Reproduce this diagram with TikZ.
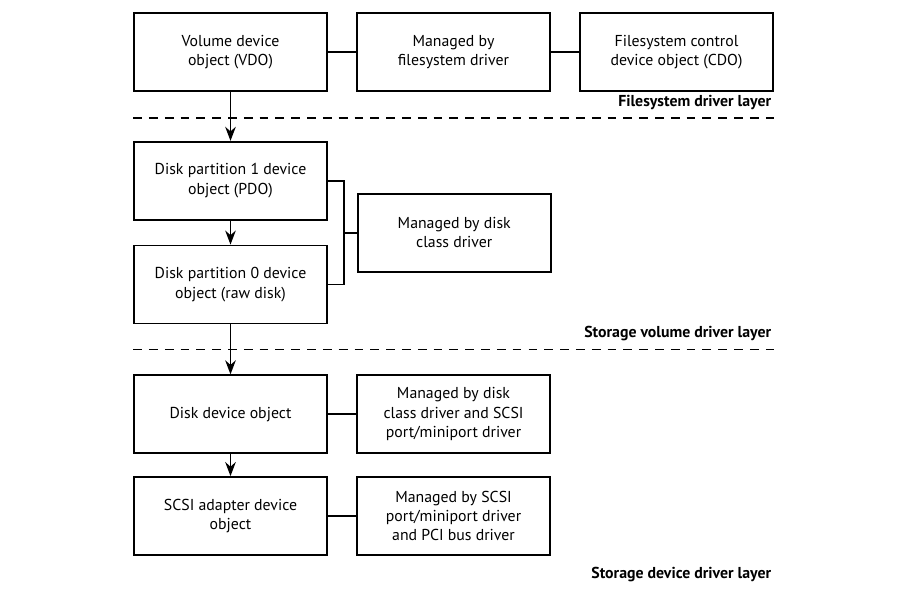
\documentclass[tikz,border=0pt]{standalone}
\usepackage{fontspec}
\setmainfont{PT Sans}
\usepackage{tikz}
\usetikzlibrary{positioning, calc, arrows.meta}

\begin{document}
\begin{tikzpicture}[%
    >={Stealth[length=8pt,width=6pt]}, % arrow tip style
    line width=1pt,                    % line thickness
    font=\fontsize{9}{11}\selectfont,  % text size
    devbox/.style={draw, minimum width=3.86cm, minimum height=1.56cm,
                   align=center, inner sep=2pt},
    layerline/.style={dash pattern=on 5pt off 4pt},
    layerlabel/.style={font=\fontsize{9}{11}\selectfont\bfseries, inner sep=1pt}
]
    \useasboundingbox (0,0) rectangle (18,-12);

    % ==========================================
    % 1. Filesystem driver layer
    % ==========================================
    \node[devbox] (vdo) at (4.61,-1.04) {Volume device\\object (VDO)};
    \node[devbox, right=0.565cm of vdo] (fsmgr) {Managed by\\filesystem driver};
    \node[devbox, right=0.565cm of fsmgr] (cdo) {Filesystem control\\device object (CDO)};

    % ==========================================
    % 2. Storage volume driver layer
    % ==========================================
    \node[devbox, below=0.98cm of vdo] (part1) {Disk partition 1 device\\object (PDO)};
    \node[devbox, below=0.48cm of part1] (part0) {Disk partition 0 device\\object (raw disk)};
    \node[devbox, anchor=west] (diskmgr) at ($(part1.east)!0.5!(part0.east) + (0.58,0)$)
        {Managed by disk\\class driver};

    % ==========================================
    % 3. Storage device driver layer
    % ==========================================
    \node[devbox, below=1cm of part0] (diskdev) {Disk device object};
    \node[devbox, right=0.565cm of diskdev] (diskdevmgr)
        {Managed by disk\\class driver and SCSI\\port/miniport driver};
    \node[devbox, below=0.44cm of diskdev] (scsi) {SCSI adapter device\\object};
    \node[devbox, right=0.565cm of scsi] (scsimgr)
        {Managed by SCSI\\port/miniport driver\\and PCI bus driver};

    % ==========================================
    % 4. Layer separators and labels
    % ==========================================
    \coordinate (sep1a) at ($(vdo.south west)!0.54!(part1.north west)$);
    \coordinate (sep1b) at (sep1a -| cdo.east);
    \coordinate (sep2a) at ($(part0.south west)!0.5!(diskdev.north west)$);
    \coordinate (sep2b) at (sep2a -| cdo.east);
    \coordinate (lay3) at ($(scsimgr.south) + (0,-0.17)$);

    \draw[layerline] (sep1a) -- (sep1b);
    \draw[layerline] (sep2a) -- (sep2b);

    \node[layerlabel, anchor=south east] (lab1) at ($(sep1b) + (0,0.12)$) {Filesystem driver layer};
    \node[layerlabel, anchor=south east] (lab2) at ($(sep2b) + (0,0.12)$) {Storage volume driver layer};
    \node[layerlabel, anchor=north east] (lab3) at (lay3 -| cdo.east) {Storage device driver layer};

    % ==========================================
    % 5. Connections
    % ==========================================
    % --- Device stack arrows ---
    \draw[->] (vdo) -- (part1);
    \draw[->] (part1) -- (part0);
    \draw[->] (part0) -- (diskdev);
    \draw[->] (diskdev) -- (scsi);

    % --- Links to managing drivers ---
    \draw (vdo) -- (fsmgr);
    \draw (fsmgr) -- (cdo);
    \draw (diskdev) -- (diskdevmgr);
    \draw (scsi) -- (scsimgr);

    % --- Bracket joining both partitions ---
    \draw (part1.east) -- ++(0.32,0) |- (part0.east);
    \draw ($(part1.east)!0.5!(part0.east) + (0.32,0)$) -- (diskmgr.west);

\end{tikzpicture}
\end{document}
